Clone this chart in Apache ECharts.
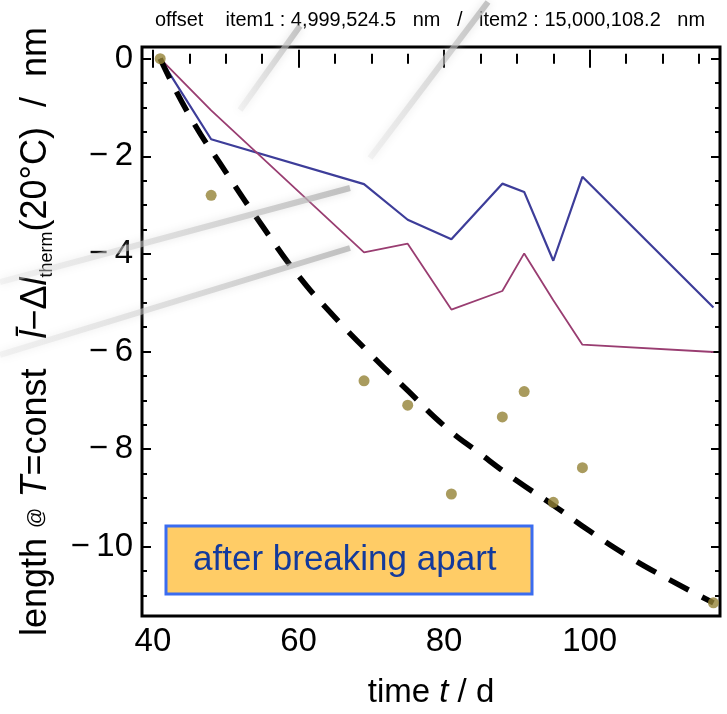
<!DOCTYPE html>
<html>
<head>
<meta charset="utf-8">
<script src="https://cdn.jsdelivr.net/npm/echarts@6/dist/echarts.min.js"></script>
<style>
  html, body { margin: 0; padding: 0; background: #fff; }
  #chart { width: 727px; height: 714px; }
</style>
</head>
<body>
<div id="chart"></div>
<script>
// measurement days and the two gauge readings (nm)
const days = [41, 48, 69, 75, 81, 88, 91, 95, 99, 117];
const item1 = [0, -1.65, -2.57, -3.3, -3.7, -2.56, -2.73, -4.14, -2.42, -5.1];
const item2 = [0, -1.06, -3.97, -3.79, -5.14, -4.76, -3.99, -4.95, -5.86, -6.01];
const measured = [0, -2.8, -6.6, -7.1, -8.92, -7.34, -6.82, -9.09, -8.38, -11.15];

// dashed fit curve
const fitDays = [41, 45, 50, 55, 60, 65, 70, 75, 80, 85, 90, 95, 100, 105, 110, 117];
const fitValues = [0, -1.16, -2.32, -3.42, -4.45, -5.3, -6.07, -6.8, -7.52, -8.1, -8.65, -9.15, -9.68, -10.17, -10.6, -11.15];

// frame ticks
const xMajor = [40, 60, 80, 100];
const xMinor = [45, 50, 55, 65, 70, 75, 85, 90, 95, 105, 110, 115];
const yMajor = [0, -2, -4, -6, -8, -10];
const yMinor = [-0.5, -1, -1.5, -2.5, -3, -3.5, -4.5, -5, -5.5, -6.5, -7, -7.5, -8.5, -9, -9.5, -10.5, -11];

const headerText = 'offset    item1 : 4,999,524.5   nm   /   item2 : 15,000,108.2   nm';
const boxText = 'after breaking apart';

const FONT = '"Liberation Sans", Arial, sans-serif';
const X_MIN = 38.5, X_MAX = 117.9;
const Y_MIN = -11.42, Y_MAX = 0.24;

const chart = echarts.init(document.getElementById('chart'));

const minus = (v) => (v < 0 ? '\u2212\u2009' + Math.abs(v) : String(v));

function frameAxis(position, ticks, len, withLabels, range) {
  return {
    type: 'value',
    position,
    min: range[0],
    max: range[1],
    axisLine: { show: false },
    splitLine: { show: false },
    axisTick: {
      show: true,
      inside: true,
      length: len,
      customValues: ticks,
      lineStyle: { color: '#000', width: 2 },
    },
    axisLabel: withLabels
      ? {
          show: true,
          customValues: ticks,
          formatter: minus,
          fontSize: 33,
          color: '#000',
          fontFamily: FONT,
          margin: 9,
        }
      : { show: false },
  };
}

// stretched text at the top needs a horizontal squeeze
const measureCtx = document.createElement('canvas').getContext('2d');
measureCtx.font = '20px ' + FONT;
const headerScale = 550 / measureCtx.measureText(headerText).width;

function streak(x1, y1, x2, y2) {
  return {
    type: 'line',
    z: 100,
    silent: true,
    shape: { x1, y1, x2, y2 },
    style: {
      stroke: {
        type: 'linear', x: 0, y: 0, x2: 1, y2: 0,
        colorStops: [
          { offset: 0, color: x1 < x2 ? 'rgba(225,225,225,0.35)' : 'rgba(175,175,175,0.75)' },
          { offset: 1, color: x1 < x2 ? 'rgba(175,175,175,0.75)' : 'rgba(225,225,225,0.35)' },
        ],
      },
      lineWidth: 6,
      shadowBlur: 8,
      shadowColor: 'rgba(190,190,190,0.6)',
    },
  };
}

const xBottom = frameAxis('bottom', xMajor, 9, true, [X_MIN, X_MAX]);
xBottom.name = 'time {i|t} / d';
xBottom.nameLocation = 'middle';
xBottom.nameGap = 60;
xBottom.nameTextStyle = {
  fontSize: 33, color: '#000', fontFamily: FONT,
  rich: { i: { fontSize: 33, fontStyle: 'italic', fontFamily: FONT } },
};

const yLeft = frameAxis('left', yMajor, 9, true, [Y_MIN, Y_MAX]);
yLeft.name = 'length {s|@} {i|T}=const   {i|l\u0304}\u2212\u0394{i|l}{sub|therm}(20\u00b0C)  /  nm';
yLeft.nameLocation = 'middle';
yLeft.nameGap = 86;
yLeft.nameTextStyle = {
  fontSize: 36, color: '#000', fontFamily: FONT, lineHeight: 40,
  rich: {
    i: { fontSize: 36, fontStyle: 'italic', fontFamily: FONT, lineHeight: 40 },
    s: { fontSize: 20, fontFamily: FONT, lineHeight: 40 },
    sub: { fontSize: 18, fontFamily: FONT, lineHeight: 40, verticalAlign: 'bottom' },
  },
};

const option = {
  animation: false,
  backgroundColor: '#fff',
  grid: {
    left: 142, right: 7, top: 47, bottom: 94,
    show: true,
    borderColor: '#000',
    borderWidth: 3,
    backgroundColor: 'transparent',
  },
  xAxis: [
    xBottom,
    frameAxis('bottom', xMinor, 5, false, [X_MIN, X_MAX]),
    frameAxis('top', xMajor, 9, false, [X_MIN, X_MAX]),
    frameAxis('top', xMinor, 5, false, [X_MIN, X_MAX]),
  ],
  yAxis: [
    yLeft,
    frameAxis('left', yMinor, 5, false, [Y_MIN, Y_MAX]),
    frameAxis('right', yMajor, 9, false, [Y_MIN, Y_MAX]),
    frameAxis('right', yMinor, 5, false, [Y_MIN, Y_MAX]),
  ],
  series: [
    {
      name: 'item1',
      type: 'line',
      data: days.map((d, i) => [d, item1[i]]),
      symbol: 'none',
      lineStyle: { color: '#3d3d99', width: 2.2 },
      z: 3,
    },
    {
      name: 'item2',
      type: 'line',
      data: days.map((d, i) => [d, item2[i]]),
      symbol: 'none',
      lineStyle: { color: '#993d71', width: 1.8 },
      z: 3,
    },
    {
      name: 'fit',
      type: 'line',
      data: fitDays.map((d, i) => [d, fitValues[i]]),
      smooth: true,
      symbol: 'none',
      lineStyle: { color: '#000', width: 5.5, type: [22, 15] },
      z: 4,
    },
    {
      name: 'measured',
      type: 'scatter',
      data: days.map((d, i) => [d, measured[i]]),
      symbolSize: 11,
      itemStyle: { color: '#948236' },
      z: 5,
    },
  ],
  graphic: [
    {
      type: 'text',
      x: 155,
      y: 20,
      scaleX: headerScale,
      style: {
        text: headerText,
        font: '20px ' + FONT,
        fill: '#000',
        textVerticalAlign: 'middle',
      },
    },
    {
      type: 'group',
      z: 50,
      children: [
        {
          type: 'rect',
          shape: { x: 166, y: 526, width: 366, height: 68 },
          style: { fill: '#ffcc66', stroke: '#3a6cf0', lineWidth: 3 },
        },
        {
          type: 'text',
          x: 193,
          y: 560,
          style: {
            text: boxText,
            font: '35px ' + FONT,
            fill: '#133a9c',
            textVerticalAlign: 'middle',
          },
        },
      ],
    },
    streak(240, 110, 300, 26),
    streak(370, 158, 488, 2),
    streak(0, 282, 350, 188),
    streak(0, 355, 350, 248),
  ],
};

chart.setOption(option);
</script>
</body>
</html>
